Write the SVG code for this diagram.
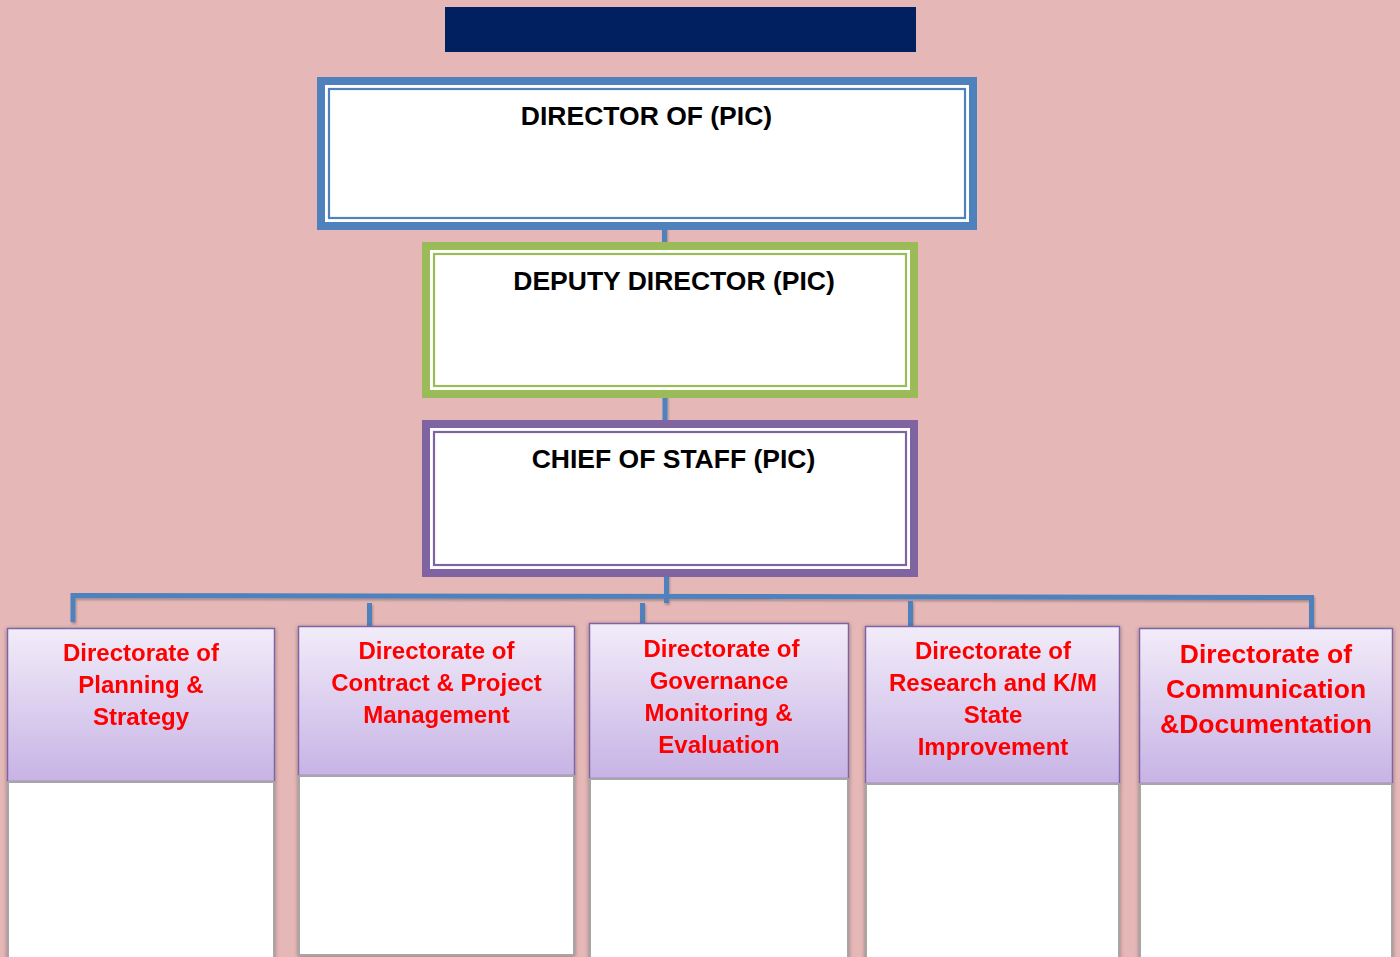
<svg xmlns="http://www.w3.org/2000/svg" width="1400" height="957" viewBox="0 0 1400 957">
  <defs>
    <linearGradient id="hdrGrad" x1="0" y1="0" x2="0" y2="1">
      <stop offset="0" stop-color="#F2ECF9"/>
      <stop offset="1" stop-color="#C7B3E5"/>
    </linearGradient>
    <filter id="boxShadow" x="-10%" y="-10%" width="120%" height="120%">
      <feDropShadow dx="0" dy="1" stdDeviation="2.2" flood-color="#000" flood-opacity="0.35"/>
    </filter>
    <filter id="lineShadow" x="-10%" y="-50%" width="120%" height="200%">
      <feDropShadow dx="1" dy="2" stdDeviation="1.2" flood-color="#000" flood-opacity="0.25"/>
    </filter>
  </defs>
  <style>
    .title { font-family: "Liberation Sans", Arial, sans-serif; font-weight: bold; font-size: 26.5px; fill: #000; text-anchor: middle; }
    .dir { font-family: "Liberation Sans", Arial, sans-serif; font-weight: bold; font-size: 24px; fill: #FF0000; text-anchor: middle; }
    .dir-lg { font-size: 26.5px; }
    .frame-thick { fill: #FFFFFF; stroke-width: 8; }
    .frame-thin { fill: none; stroke-width: 2.2; }
    .hdr { fill: url(#hdrGrad); stroke: #8064A2; stroke-width: 1.5; }
    .body { fill: #FFFFFF; stroke: #A6A6A6; stroke-width: 2; }
    .conn { fill: none; stroke: #4F81BD; stroke-width: 5; stroke-linecap: butt; stroke-linejoin: miter; }
  </style>

  <!-- page background -->
  <rect x="0" y="0" width="1400" height="957" fill="#E5B8B7"/>

  <!-- title banner -->
  <rect id="banner" x="445" y="7" width="471" height="45" fill="#002060"/>

  <!-- connectors -->
  <g id="connectors" class="conn" filter="url(#lineShadow)">
    <line x1="664.5" y1="226" x2="664.5" y2="248"/>
    <line x1="665" y1="394" x2="665" y2="424"/>
    <line x1="666.5" y1="573" x2="666.5" y2="603"/>
    <path d="M73,622 L73,595.5 L1311.5,597.5 L1311.5,632"/>
    <line x1="369.5" y1="603" x2="369.5" y2="627"/>
    <line x1="642.5" y1="603" x2="642.5" y2="627"/>
    <line x1="910.5" y1="601" x2="910.5" y2="627"/>
  </g>

  <!-- director -->
  <g id="director">
    <rect class="frame-thick" x="321" y="81" width="652" height="145" stroke="#4F81BD"/>
    <rect class="frame-thin" x="329" y="89" width="636" height="129" stroke="#4F81BD"/>
    <text class="title" x="646.5" y="125">DIRECTOR OF (PIC)</text>
  </g>

  <!-- deputy director -->
  <g id="deputy-director">
    <rect class="frame-thick" x="426" y="246" width="488" height="148" stroke="#9BBB59"/>
    <rect class="frame-thin" x="434" y="254" width="472" height="132" stroke="#9BBB59"/>
    <text class="title" x="674" y="290">DEPUTY DIRECTOR (PIC)</text>
  </g>

  <!-- chief of staff -->
  <g id="chief-of-staff">
    <rect class="frame-thick" x="426" y="424" width="488" height="149" stroke="#8064A2"/>
    <rect class="frame-thin" x="434" y="432" width="472" height="133" stroke="#8064A2"/>
    <text class="title" x="673.5" y="468">CHIEF OF STAFF (PIC)</text>
  </g>

  <!-- directorates: gradient header above a plain white body -->
  <g id="dir-planning" filter="url(#boxShadow)">
    <rect class="hdr" x="7.5" y="628.5" width="267" height="153"/>
    <rect class="body" x="8" y="782" width="266" height="190"/>
    <text class="dir" x="141" y="661">Directorate of</text>
    <text class="dir" x="141" y="693">Planning &amp;</text>
    <text class="dir" x="141" y="725">Strategy</text>
  </g>

  <g id="dir-contract" filter="url(#boxShadow)">
    <rect class="hdr" x="298.5" y="626.5" width="276" height="149"/>
    <rect class="body" x="299" y="776" width="275" height="179"/>
    <text class="dir" x="436.5" y="659">Directorate of</text>
    <text class="dir" x="436.5" y="691">Contract &amp; Project</text>
    <text class="dir" x="436.5" y="723">Management</text>
  </g>

  <g id="dir-governance" filter="url(#boxShadow)">
    <rect class="hdr" x="589.5" y="623.5" width="259" height="155"/>
    <rect class="body" x="590" y="779" width="258" height="190"/>
    <text class="dir" x="721.5" y="657">Directorate of</text>
    <text class="dir" x="719" y="689">Governance</text>
    <text class="dir" x="718.5" y="721">Monitoring &amp;</text>
    <text class="dir" x="719" y="753">Evaluation</text>
  </g>

  <g id="dir-research" filter="url(#boxShadow)">
    <rect class="hdr" x="865.5" y="626.5" width="254" height="157"/>
    <rect class="body" x="866" y="784" width="253" height="190"/>
    <text class="dir" x="993" y="659">Directorate of</text>
    <text class="dir" x="993" y="691">Research and K/M</text>
    <text class="dir" x="993" y="723">State</text>
    <text class="dir" x="993" y="755">Improvement</text>
  </g>

  <g id="dir-communication" filter="url(#boxShadow)">
    <rect class="hdr" x="1139.5" y="628.5" width="253" height="155"/>
    <rect class="body" x="1140" y="784" width="252" height="190"/>
    <text class="dir dir-lg" x="1266" y="663">Directorate of</text>
    <text class="dir dir-lg" x="1266" y="698">Communication</text>
    <text class="dir dir-lg" x="1266" y="733">&amp;Documentation</text>
  </g>
</svg>
